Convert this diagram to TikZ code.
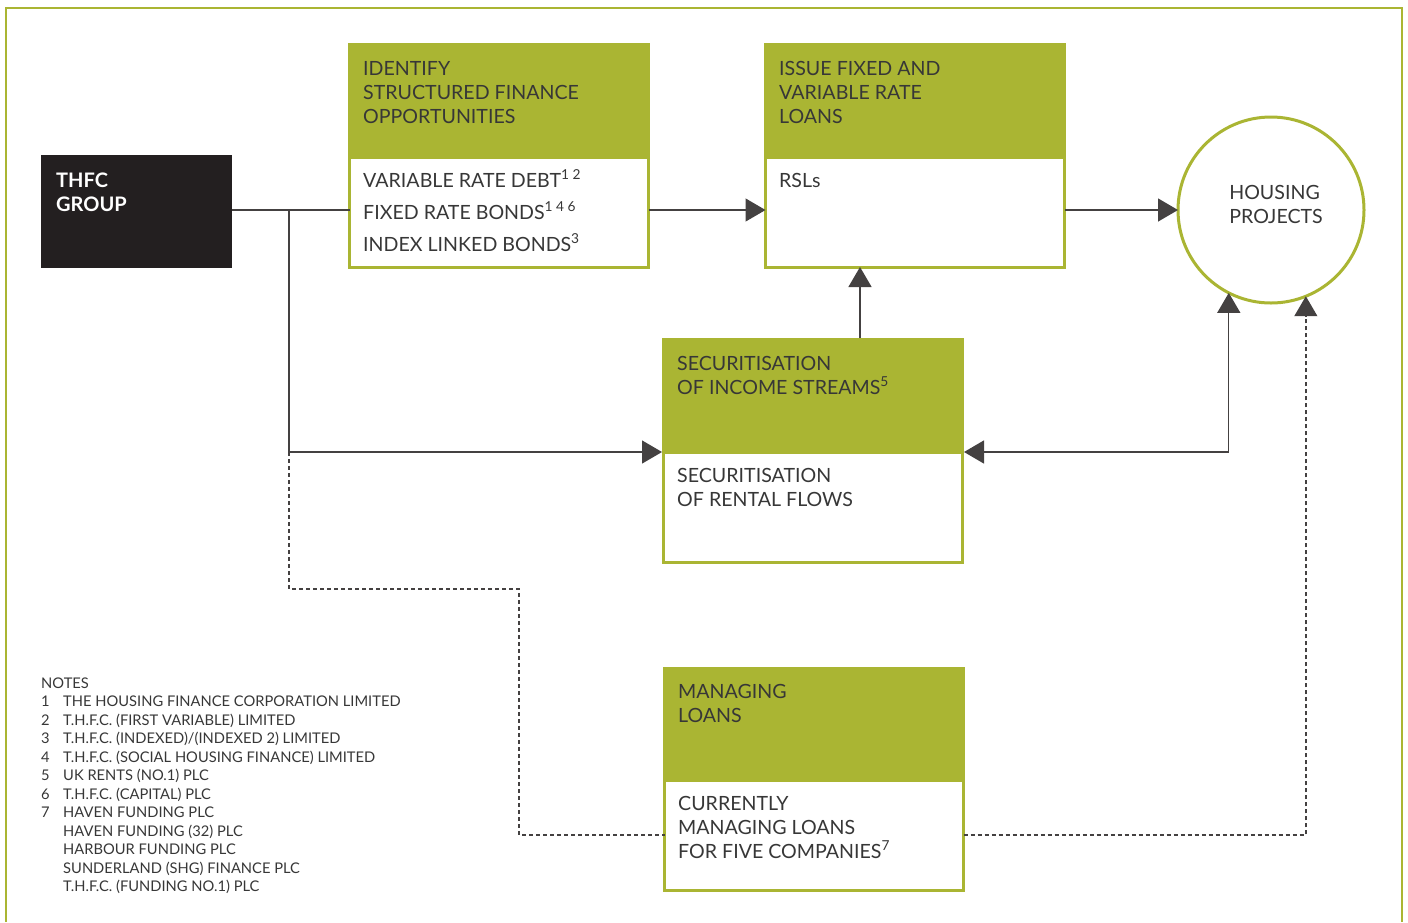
\documentclass[tikz,border=0pt]{standalone}
\usepackage{fontspec}
\setmainfont{Lato}
\usetikzlibrary{arrows.meta,positioning}
\definecolor{thfcgreen}{RGB}{170,181,51}
\definecolor{thfcblack}{RGB}{35,31,32}
\definecolor{thfctext}{RGB}{55,55,55}
\newcommand{\noteref}[1]{\smash{\textsuperscript{#1}}}
\tikzset{
  headbox/.style={fill=thfcgreen, minimum width=302pt, minimum height=114pt, anchor=north west, inner sep=0pt, outer sep=0pt},
  bodybox/.style={draw=thfcgreen, line width=3pt, fill=white, minimum width=299pt, minimum height=110pt, anchor=north west, inner sep=0pt, outer sep=0pt},
  boxtext/.style={anchor=north west, inner sep=0pt, align=left, text=thfctext, font=\fontsize{19.6}{24}\selectfont},
  link/.style={draw=thfcblack!85, line width=1.4pt},
  dashlink/.style={link, dash pattern=on 4pt off 3pt},
  arrowlink/.style={-{Triangle[length=20pt,width=23pt]}}
}
\begin{document}
\begin{tikzpicture}[x=1pt, y=-1pt, line join=miter]
  \useasboundingbox (0,0) rectangle (1408,922);
  % frame
  \draw[thfcgreen, line width=2pt] (6,922) -- (6,8) -- (1402,8) -- (1402,922);

  % THFC group
  \node[fill=thfcblack, minimum width=191pt, minimum height=113pt, anchor=north west, inner sep=0pt, outer sep=0pt] (thfc) at (41,155) {};
  \node[boxtext, text=white, font=\fontsize{20}{24}\selectfont\bfseries] (thfctxt) at (56,172.6) {THFC\\GROUP};

  % identify structured finance
  \node[headbox] (idhead) at (348,43) {};
  \node[bodybox] (idbody) at (349.5,157) {};
  \node[boxtext] (idtxt) at (363,60.8) {IDENTIFY\\STRUCTURED FINANCE\\OPPORTUNITIES};
  \node[boxtext, font=\fontsize{19.6}{32}\selectfont] (idlist) at (363,172.8) {VARIABLE RATE DEBT\noteref{1 2}\\FIXED RATE BONDS\noteref{1 4 6}\\INDEX LINKED BONDS\noteref{3}};

  % issue loans
  \node[headbox] (ishead) at (764,43) {};
  \node[bodybox] (isbody) at (765.5,157) {};
  \node[boxtext] (istxt) at (779,60.8) {ISSUE FIXED AND\\VARIABLE RATE\\LOANS};
  \node[boxtext] (rsltxt) at (779,172.8) {RSLs};

  % housing projects
  \node[circle, draw=thfcgreen, line width=3pt, fill=white, minimum size=186pt, outer sep=0pt] (housing) at (1271,210) {};
  \node[boxtext, anchor=center] (hptxt) at (1276,204) {HOUSING\\PROJECTS};

  % securitisation
  \node[headbox] (sechead) at (662,338) {};
  \node[bodybox] (secbody) at (663.5,452) {};
  \node[boxtext] (sectxt) at (677,355.8) {SECURITISATION\\OF INCOME STREAMS\noteref{5}};
  \node[boxtext] (rentxt) at (677,467.8) {SECURITISATION\\OF RENTAL FLOWS};

  % managing loans
  \node[headbox] (mghead) at (663,667) {};
  \node[bodybox] (mgbody) at (664.5,780) {};
  \node[boxtext] (mgtxt) at (678,683.8) {MANAGING\\LOANS};
  \node[boxtext] (curtxt) at (678,795.8) {CURRENTLY\\MANAGING LOANS\\FOR FIVE COMPANIES\noteref{7}};

  % notes
  \node[boxtext, font=\fontsize{14.7}{18.5}\selectfont] (notes) at (41,677.5) {NOTES\\
    \makebox[22pt][l]{1}THE HOUSING FINANCE CORPORATION LIMITED\\
    \makebox[22pt][l]{2}T.H.F.C. (FIRST VARIABLE) LIMITED\\
    \makebox[22pt][l]{3}T.H.F.C. (INDEXED)/(INDEXED 2) LIMITED\\
    \makebox[22pt][l]{4}T.H.F.C. (SOCIAL HOUSING FINANCE) LIMITED\\
    \makebox[22pt][l]{5}UK RENTS (NO.1) PLC\\
    \makebox[22pt][l]{6}T.H.F.C. (CAPITAL) PLC\\
    \makebox[22pt][l]{7}HAVEN FUNDING PLC\\
    \makebox[22pt][l]{}HAVEN FUNDING (32) PLC\\
    \makebox[22pt][l]{}HARBOUR FUNDING PLC\\
    \makebox[22pt][l]{}SUNDERLAND (SHG) FINANCE PLC\\
    \makebox[22pt][l]{}T.H.F.C. (FUNDING NO.1) PLC};

  % connectors
  \coordinate (split) at (289,210);
  \coordinate (upfoot) at (860,338);
  \coordinate (dashturn) at (519,589);
  \draw[link] (thfc.east |- split) -- (idbody.west |- split);
  \draw[link, arrowlink] (idbody.east |- split) -- (isbody.west |- split);
  \draw[link, arrowlink] (isbody.east |- split) -- (housing.west |- split);
  \draw[link, arrowlink] (split) |- (sechead.south west);
  \draw[link, arrowlink] (upfoot) -- (upfoot |- isbody.south);
  \draw[link, {Triangle[length=20pt,width=23pt]}-{Triangle[length=20pt,width=23pt]}] (sechead.south east) -| (housing.243.8);
  \draw[dashlink] (split |- sechead.south) |- (dashturn) |- (mgbody.west);
  \draw[dashlink, arrowlink] (mgbody.east) -| (housing.292.8);
\end{tikzpicture}
\end{document}
